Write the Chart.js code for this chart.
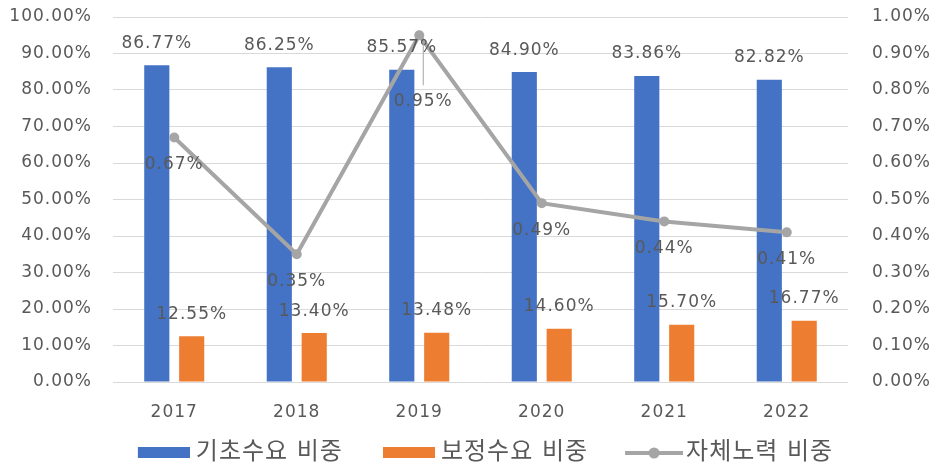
<!DOCTYPE html>
<html>
<head>
<meta charset="utf-8">
<script src="https://cdn.jsdelivr.net/npm/chart.js@4/dist/chart.umd.min.js"></script>
<style>
  html, body { margin: 0; padding: 0; background: #fff; }
  #wrap { width: 933px; height: 464px; }
</style>
</head>
<body>
<div id="wrap"><canvas id="chart" width="933" height="464"></canvas></div>
<script>
const years = ['2017', '2018', '2019', '2020', '2021', '2022']
const baseShare = [86.77, 86.25, 85.57, 84.90, 83.86, 82.82]   // 기초수요 비중
const adjShare = [12.55, 13.40, 13.48, 14.60, 15.70, 16.77]    // 보정수요 비중
const selfShare = [0.67, 0.35, 0.95, 0.49, 0.44, 0.41]         // 자체노력 비중
const seriesNames = ['기초수요 비중', '보정수요 비중', '자체노력 비중']

const BLUE = '#4472C4'
const ORANGE = '#ED7D31'
const GREY = '#A5A5A5'
const TEXT = '#595959'
const FONT = '"DejaVu Sans", "Noto Sans CJK KR", sans-serif'

Chart.defaults.font.family = FONT
Chart.defaults.color = TEXT

const pct = v => Number(v).toFixed(2) + '%'

// legend swatches drawn as little canvases, with blank room on the left
// so the items sit apart like in the original
const GAP = 44
function swatch(color, w, withDot) {
  const h = 14
  const c = document.createElement('canvas')
  c.width = GAP + w
  c.height = h
  const g = c.getContext('2d')
  if (withDot) {
    g.strokeStyle = color
    g.lineWidth = 4
    g.beginPath()
    g.moveTo(GAP, h / 2)
    g.lineTo(GAP + w, h / 2)
    g.stroke()
    g.fillStyle = color
    g.beginPath()
    g.arc(GAP + w / 2, h / 2, 5.5, 0, Math.PI * 2)
    g.fill()
  } else {
    g.fillStyle = color
    g.fillRect(GAP, 1, w, 11)
  }
  return c
}
const swatches = [swatch(BLUE, 52), swatch(ORANGE, 52), swatch(GREY, 58, true)]

// keep text a little spread out like the original
const spacing = {
  id: 'spacing',
  beforeUpdate(chart) { chart.ctx.letterSpacing = '1px' },
  beforeDraw(chart) { chart.ctx.letterSpacing = '1px' }
}

// value labels above bars / below line points
const valueLabels = {
  id: 'valueLabels',
  afterDatasetsDraw(chart) {
    const ctx = chart.ctx
    ctx.save()
    ctx.font = '17px ' + FONT
    ctx.fillStyle = TEXT
    ctx.textAlign = 'center'
    ctx.textBaseline = 'middle'
    chart.data.datasets.forEach((ds, i) => {
      chart.getDatasetMeta(i).data.forEach((el, j) => {
        const v = ds.data[j]
        if (ds.type === 'line') {
          const off = j === 2 ? 66 : 27
          if (j === 2) {
            ctx.strokeStyle = GREY
            ctx.lineWidth = 1
            ctx.beginPath()
            ctx.moveTo(el.x + 4, el.y + 6)
            ctx.lineTo(el.x + 4, el.y + 50)
            ctx.stroke()
          }
          ctx.fillText(pct(v), el.x + (j === 2 ? 4 : 0), el.y + off)
        } else {
          ctx.fillText(pct(v), el.x, el.y - 22)
        }
      })
    })
    ctx.restore()
  }
}

new Chart(document.getElementById('chart'), {
  data: {
    labels: years,
    datasets: [
      {
        type: 'bar',
        label: seriesNames[0],
        data: baseShare,
        backgroundColor: BLUE,
        yAxisID: 'y',
        order: 1,
        categoryPercentage: 0.57,
        barPercentage: 0.72
      },
      {
        type: 'bar',
        label: seriesNames[1],
        data: adjShare,
        backgroundColor: ORANGE,
        yAxisID: 'y',
        order: 1,
        categoryPercentage: 0.57,
        barPercentage: 0.72
      },
      {
        type: 'line',
        label: seriesNames[2],
        data: selfShare,
        borderColor: GREY,
        backgroundColor: GREY,
        borderWidth: 4,
        pointRadius: 5,
        pointBackgroundColor: GREY,
        pointBorderWidth: 0,
        yAxisID: 'y1',
        order: 0
      }
    ]
  },
  options: {
    responsive: false,
    animation: false,
    layout: { padding: { top: 17, left: 0, right: 0, bottom: 0 } },
    plugins: {
      tooltip: { enabled: false },
      legend: {
        position: 'bottom',
        maxHeight: 25,
        labels: {
          usePointStyle: true,
          pointStyleWidth: GAP + 52 - 12,
          boxHeight: 14,
          padding: 2,
          color: TEXT,
          font: { size: 24 },
          generateLabels: chart => chart.data.datasets.map((ds, i) => ({
            text: ds.label,
            pointStyle: swatches[i],
            datasetIndex: i,
            hidden: false,
            fillStyle: ds.backgroundColor,
            strokeStyle: ds.backgroundColor,
            lineWidth: 0,
            fontColor: TEXT
          }))
        }
      }
    },
    scales: {
      x: {
        grid: { display: false },
        border: { display: false },
        ticks: { font: { size: 17 }, color: TEXT, padding: 12 },
        afterFit(s) { s.height = 57 }
      },
      y: {
        position: 'left',
        min: 0,
        max: 100,
        ticks: { stepSize: 10, callback: v => pct(v), font: { size: 17 }, color: TEXT, padding: 0 },
        grid: { color: '#D9D9D9', drawTicks: true, tickLength: 21, tickColor: 'rgba(0,0,0,0)' },
        border: { display: false },
        afterFit(s) { s.width = 113 }
      },
      y1: {
        position: 'right',
        min: 0,
        max: 1,
        ticks: { stepSize: 0.1, callback: v => pct(v), font: { size: 17 }, color: TEXT, padding: 0 },
        grid: { display: true, drawOnChartArea: false, drawTicks: true, tickLength: 24, tickColor: 'rgba(0,0,0,0)' },
        border: { display: false },
        afterFit(s) { s.width = 85 }
      }
    }
  },
  plugins: [spacing, valueLabels]
})
</script>
</body>
</html>
